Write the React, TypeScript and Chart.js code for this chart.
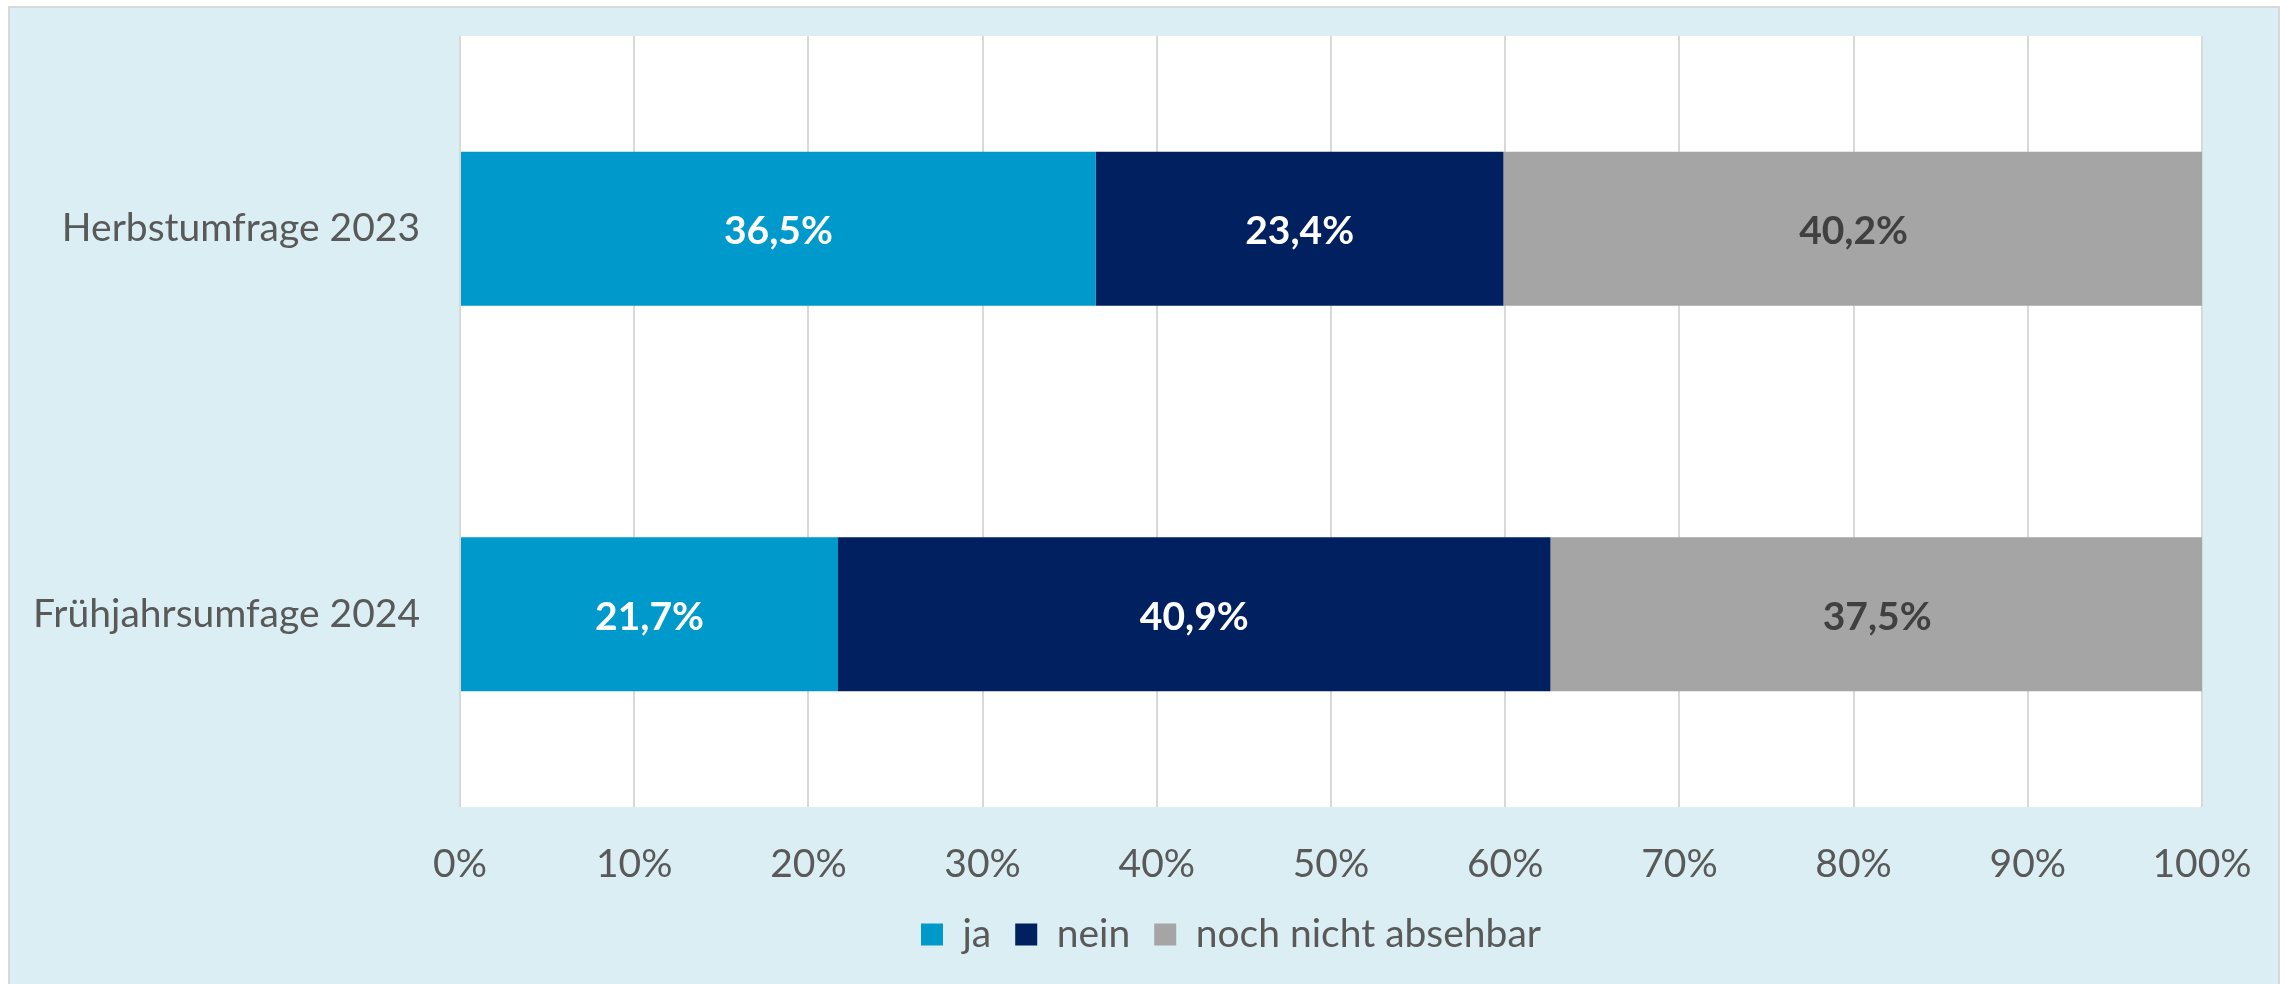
import React, { useEffect, useRef } from "react";
import { Chart, registerables } from "chart.js";

Chart.register(...registerables);

const categories = ["Herbstumfrage 2023", "Frühjahrsumfage 2024"];
const seriesNames = ["ja", "nein", "noch nicht absehbar"];
const jaValues = [36.5, 21.7];
const neinValues = [23.4, 40.9];
const nochNichtValues = [40.2, 37.5];
const seriesColors = ["#0099CC", "#002060", "#A5A5A5"];
const valueLabelColors = ["#FFFFFF", "#FFFFFF", "#404040"];
const xMin = 0;
const xMax = 100;
const xStep = 10;

const FONT = "Lato, 'Open Sans', sans-serif";
const FONT_SIZE = 39;
const TEXT_COLOR = "#595959";

const backgroundPlugin = {
  id: "bgPlugin",
  afterLayout(chart: any) {
    // Excel places the legend right of the canvas centre
    if (chart.legend) {
      chart.legend.left += 260;
    }
  },
  beforeDraw(chart: any) {
    const { ctx, width, height, chartArea } = chart;
    ctx.save();
    ctx.fillStyle = "#FFFFFF";
    ctx.fillRect(0, 0, width, height);
    ctx.fillStyle = "#DAEEF3";
    ctx.fillRect(9, 7, width - 18, height - 7);
    ctx.strokeStyle = "#D9D9D9";
    ctx.lineWidth = 2;
    ctx.strokeRect(9, 7, width - 18, height + 4);
    ctx.fillStyle = "#FFFFFF";
    ctx.fillRect(chartArea.left, chartArea.top, chartArea.right - chartArea.left, chartArea.bottom - chartArea.top);
    ctx.restore();
  },
};

const valueLabelPlugin = {
  id: "valueLabels",
  afterDatasetsDraw(chart: any) {
    const { ctx } = chart;
    ctx.save();
    ctx.font = `bold ${FONT_SIZE}px ${FONT}`;
    ctx.textAlign = "center";
    ctx.textBaseline = "middle";
    chart.data.datasets.forEach((ds: any, i: number) => {
      const meta = chart.getDatasetMeta(i);
      meta.data.forEach((bar: any, j: number) => {
        const v = ds.data[j];
        const cx = (bar.x + bar.base) / 2;
        ctx.fillStyle = valueLabelColors[i];
        ctx.fillText(v.toFixed(1).replace(".", ",") + "%", cx, bar.y + 3);
      });
    });
    ctx.restore();
  },
};

export default function App() {
  const ref = useRef<HTMLCanvasElement | null>(null);
  useEffect(() => {
    document.body.style.margin = "0";
    const canvas = ref.current!;
    const allValues = [jaValues, neinValues, nochNichtValues];
    const chart = new Chart(canvas, {
      type: "bar",
      data: {
        labels: categories,
        datasets: seriesNames.map((name, i) => ({
          label: name,
          data: allValues[i],
          backgroundColor: seriesColors[i],
          borderWidth: 0,
          barPercentage: 0.4,
          categoryPercentage: 1.0,
        })),
      },
      options: {
        indexAxis: "y",
        responsive: false,
        animation: false,
        layout: { padding: { top: 36, right: 86, left: 0, bottom: 20 } },
        scales: {
          x: {
            stacked: true,
            min: xMin,
            max: xMax,
            ticks: {
              stepSize: xStep,
              padding: 34,
              color: TEXT_COLOR,
              font: { family: FONT, size: FONT_SIZE },
              callback: (v: any) => `${v}%`,
            },
            grid: { color: "#D9D9D9", lineWidth: 2, drawTicks: false },
            border: { display: false },
            afterFit: (scale: any) => {
              scale.height = 84;
            },
          },
          y: {
            stacked: true,
            ticks: {
              padding: 40,
              color: TEXT_COLOR,
              font: { family: FONT, size: FONT_SIZE },
            },
            grid: { display: false, drawTicks: false },
            border: { display: false },
            afterFit: (scale: any) => {
              scale.width = 460;
              scale.paddingTop = 0;
              scale.paddingBottom = 0;
            },
          },
        },
        plugins: {
          legend: {
            position: "bottom",
            labels: {
              boxWidth: 22,
              boxHeight: 22,
              padding: 24,
              color: TEXT_COLOR,
              font: { family: FONT, size: FONT_SIZE },
            },
          },
          tooltip: { enabled: false },
        },
      },
      plugins: [backgroundPlugin, valueLabelPlugin],
    } as any);
    return () => chart.destroy();
  }, []);
  return (
    <div style={{ position: "fixed", left: 0, top: 0, width: 2288, height: 984 }}>
      <canvas ref={ref} width={2288} height={984} style={{ display: "block" }} />
    </div>
  );
}
